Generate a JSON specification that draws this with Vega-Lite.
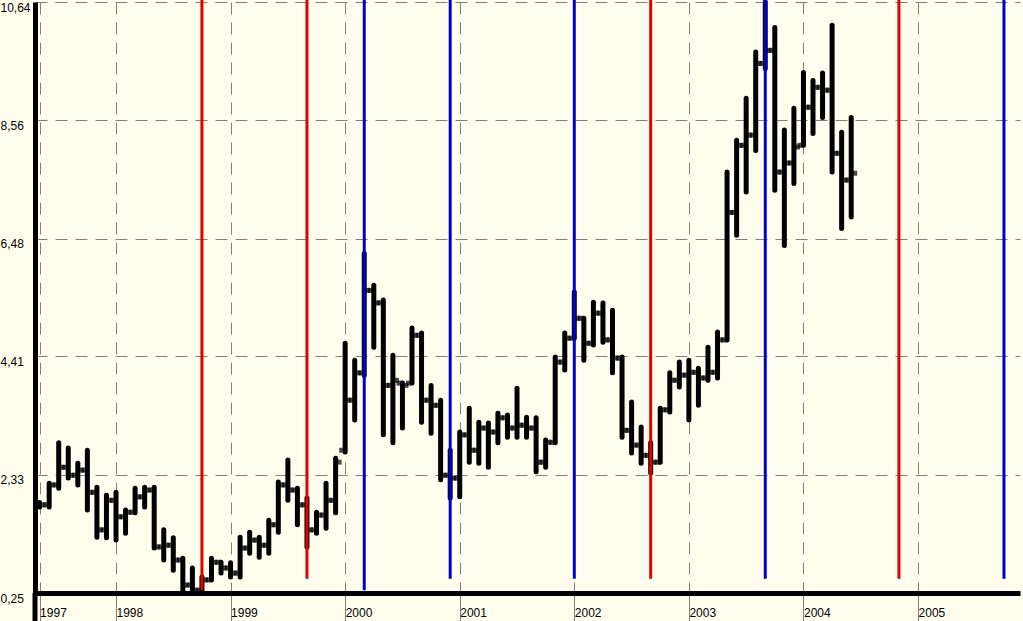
{
  "$schema": "https://vega.github.io/schema/vega-lite/v6.json",
  "width": 985,
  "height": 591,
  "autosize": {"type": "none"},
  "padding": {"left": 35, "top": 2, "right": 3, "bottom": 28},
  "background": "#FFFEEE",
  "config": {"view": {"stroke": null}, "font": "Liberation Sans"},
  "datasets": {
    "bars": [
      {"year": 1997.3333, "o": 1.80, "h": 1.84, "l": 1.76, "c": 1.80},
      {"year": 1997.4167, "o": 1.80, "h": 2.18, "l": 1.76, "c": 2.15},
      {"year": 1997.5, "o": 2.15, "h": 2.89, "l": 2.09, "c": 2.46},
      {"year": 1997.5833, "o": 2.46, "h": 2.80, "l": 2.27, "c": 2.32},
      {"year": 1997.6667, "o": 2.32, "h": 2.53, "l": 2.15, "c": 2.41},
      {"year": 1997.75, "o": 2.41, "h": 2.76, "l": 1.71, "c": 2.02},
      {"year": 1997.8333, "o": 2.02, "h": 2.11, "l": 1.23, "c": 1.36},
      {"year": 1997.9167, "o": 1.36, "h": 1.97, "l": 1.22, "c": 1.88},
      {"year": 1998.0, "o": 1.88, "h": 2.02, "l": 1.18, "c": 1.59},
      {"year": 1998.0833, "o": 1.59, "h": 1.71, "l": 1.30, "c": 1.67},
      {"year": 1998.1667, "o": 1.67, "h": 2.09, "l": 1.66, "c": 1.94},
      {"year": 1998.25, "o": 1.94, "h": 2.11, "l": 1.76, "c": 2.06},
      {"year": 1998.3333, "o": 2.06, "h": 2.11, "l": 1.04, "c": 1.06},
      {"year": 1998.4167, "o": 1.06, "h": 1.36, "l": 0.83, "c": 1.09},
      {"year": 1998.5, "o": 1.09, "h": 1.22, "l": 0.65, "c": 0.83},
      {"year": 1998.5833, "o": 0.83, "h": 0.86, "l": 0.25, "c": 0.39},
      {"year": 1998.6667, "o": 0.39, "h": 0.69, "l": 0.25, "c": 0.30},
      {"year": 1998.75, "o": 0.30, "h": 0.53, "l": 0.30, "c": 0.48},
      {"year": 1998.8333, "o": 0.48, "h": 0.86, "l": 0.48, "c": 0.79},
      {"year": 1998.9167, "o": 0.79, "h": 0.79, "l": 0.60, "c": 0.69},
      {"year": 1999.0, "o": 0.69, "h": 0.78, "l": 0.53, "c": 0.60},
      {"year": 1999.0833, "o": 0.60, "h": 1.23, "l": 0.53, "c": 1.04},
      {"year": 1999.1667, "o": 1.04, "h": 1.32, "l": 0.95, "c": 1.18},
      {"year": 1999.25, "o": 1.18, "h": 1.23, "l": 0.88, "c": 1.09},
      {"year": 1999.3333, "o": 1.09, "h": 1.53, "l": 0.95, "c": 1.45},
      {"year": 1999.4167, "o": 1.45, "h": 2.20, "l": 1.32, "c": 2.15},
      {"year": 1999.5, "o": 2.15, "h": 2.59, "l": 1.88, "c": 2.06},
      {"year": 1999.5833, "o": 2.06, "h": 2.09, "l": 1.45, "c": 1.80},
      {"year": 1999.6667, "o": 1.80, "h": 1.92, "l": 1.06, "c": 1.36},
      {"year": 1999.75, "o": 1.36, "h": 1.67, "l": 1.30, "c": 1.62},
      {"year": 1999.8333, "o": 1.62, "h": 2.18, "l": 1.39, "c": 1.88},
      {"year": 1999.9167, "o": 1.88, "h": 2.62, "l": 1.66, "c": 2.55},
      {"year": 2000.0, "o": 2.76, "h": 4.64, "l": 2.73, "c": 3.64},
      {"year": 2000.0833, "o": 3.64, "h": 4.34, "l": 3.29, "c": 4.12},
      {"year": 2000.1667, "o": 4.12, "h": 6.22, "l": 4.08, "c": 5.57},
      {"year": 2000.25, "o": 5.57, "h": 5.66, "l": 4.57, "c": 5.35},
      {"year": 2000.3333, "o": 5.35, "h": 5.40, "l": 3.03, "c": 3.90},
      {"year": 2000.4167, "o": 3.90, "h": 4.43, "l": 2.89, "c": 3.99},
      {"year": 2000.5, "o": 3.94, "h": 3.94, "l": 3.15, "c": 3.90},
      {"year": 2000.5833, "o": 3.94, "h": 4.91, "l": 3.94, "c": 4.78},
      {"year": 2000.6667, "o": 4.78, "h": 4.82, "l": 3.25, "c": 3.64},
      {"year": 2000.75, "o": 3.64, "h": 3.90, "l": 3.06, "c": 3.55},
      {"year": 2000.8333, "o": 3.55, "h": 3.64, "l": 2.24, "c": 2.32},
      {"year": 2000.9167, "o": 2.32, "h": 2.76, "l": 1.92, "c": 2.27},
      {"year": 2001.0, "o": 2.27, "h": 3.08, "l": 1.94, "c": 3.03},
      {"year": 2001.0833, "o": 3.03, "h": 3.50, "l": 2.55, "c": 2.76},
      {"year": 2001.1667, "o": 2.76, "h": 3.25, "l": 2.53, "c": 3.15},
      {"year": 2001.25, "o": 3.15, "h": 3.24, "l": 2.46, "c": 3.08},
      {"year": 2001.3333, "o": 3.08, "h": 3.41, "l": 2.89, "c": 3.33},
      {"year": 2001.4167, "o": 3.33, "h": 3.38, "l": 2.99, "c": 3.15},
      {"year": 2001.5, "o": 3.15, "h": 3.85, "l": 2.99, "c": 3.20},
      {"year": 2001.5833, "o": 3.20, "h": 3.34, "l": 2.99, "c": 3.15},
      {"year": 2001.6667, "o": 3.15, "h": 3.33, "l": 2.38, "c": 2.55},
      {"year": 2001.75, "o": 2.55, "h": 2.94, "l": 2.46, "c": 2.90},
      {"year": 2001.8333, "o": 2.90, "h": 4.40, "l": 2.89, "c": 4.31},
      {"year": 2001.9167, "o": 4.31, "h": 4.82, "l": 4.17, "c": 4.73},
      {"year": 2002.0, "o": 4.73, "h": 5.54, "l": 4.73, "c": 5.08},
      {"year": 2002.0833, "o": 5.08, "h": 5.08, "l": 4.34, "c": 4.64},
      {"year": 2002.1667, "o": 4.64, "h": 5.36, "l": 4.61, "c": 5.17},
      {"year": 2002.25, "o": 5.17, "h": 5.35, "l": 4.66, "c": 4.70},
      {"year": 2002.3333, "o": 4.70, "h": 5.22, "l": 4.12, "c": 4.38},
      {"year": 2002.4167, "o": 4.38, "h": 4.40, "l": 2.99, "c": 3.11},
      {"year": 2002.5, "o": 3.11, "h": 3.61, "l": 2.71, "c": 2.85},
      {"year": 2002.5833, "o": 2.85, "h": 3.17, "l": 2.53, "c": 2.67},
      {"year": 2002.6667, "o": 2.67, "h": 2.89, "l": 2.36, "c": 2.55},
      {"year": 2002.75, "o": 2.55, "h": 3.50, "l": 2.55, "c": 3.47},
      {"year": 2002.8333, "o": 3.47, "h": 4.12, "l": 3.43, "c": 3.99},
      {"year": 2002.9167, "o": 3.99, "h": 4.31, "l": 3.87, "c": 4.08},
      {"year": 2003.0, "o": 4.08, "h": 4.34, "l": 3.29, "c": 4.13},
      {"year": 2003.0833, "o": 4.13, "h": 4.20, "l": 3.55, "c": 4.03},
      {"year": 2003.1667, "o": 4.03, "h": 4.57, "l": 3.99, "c": 4.13},
      {"year": 2003.25, "o": 4.13, "h": 4.84, "l": 4.03, "c": 4.70},
      {"year": 2003.3333, "o": 4.70, "h": 7.65, "l": 4.70, "c": 6.94},
      {"year": 2003.4167, "o": 6.94, "h": 8.21, "l": 6.54, "c": 8.12},
      {"year": 2003.5, "o": 8.12, "h": 8.95, "l": 7.30, "c": 8.30},
      {"year": 2003.5833, "o": 8.30, "h": 9.76, "l": 8.03, "c": 9.56},
      {"year": 2003.6667, "o": 9.56, "h": 10.64, "l": 9.47, "c": 9.79},
      {"year": 2003.75, "o": 9.79, "h": 10.19, "l": 7.33, "c": 7.65},
      {"year": 2003.8333, "o": 7.65, "h": 8.39, "l": 6.36, "c": 7.81},
      {"year": 2003.9167, "o": 7.81, "h": 8.77, "l": 7.45, "c": 8.09},
      {"year": 2004.0, "o": 8.12, "h": 9.40, "l": 8.12, "c": 8.79},
      {"year": 2004.0833, "o": 8.79, "h": 9.26, "l": 8.33, "c": 9.14},
      {"year": 2004.1667, "o": 9.14, "h": 9.39, "l": 8.61, "c": 9.09},
      {"year": 2004.25, "o": 9.09, "h": 10.23, "l": 7.65, "c": 7.98},
      {"year": 2004.3333, "o": 7.98, "h": 8.35, "l": 6.66, "c": 7.51},
      {"year": 2004.4167, "o": 7.51, "h": 8.61, "l": 6.86, "c": 7.63}
    ],
    "lines": [
      {"year": 1998.75, "kind": "red", "bottom": 0.30, "top": 10.68},
      {"year": 1999.6667, "kind": "red", "bottom": 0.50, "top": 10.68},
      {"year": 2000.1667, "kind": "blue", "bottom": 0.30, "top": 10.68},
      {"year": 2000.9167, "kind": "blue", "bottom": 0.50, "top": 10.68},
      {"year": 2002.0, "kind": "blue", "bottom": 0.50, "top": 10.68},
      {"year": 2002.6667, "kind": "red", "bottom": 0.50, "top": 10.68},
      {"year": 2003.6667, "kind": "blue", "bottom": 0.50, "top": 10.68},
      {"year": 2004.8333, "kind": "red", "bottom": 0.50, "top": 10.68},
      {"year": 2005.75, "kind": "blue", "bottom": 0.50, "top": 10.68}
    ]
  },
  "layer": [
    {
      "data": {"name": "bars"},
      "mark": {"type": "rule", "color": "black", "strokeWidth": 5, "strokeCap": "round"},
      "encoding": {
        "x": {
          "field": "year", "type": "quantitative",
          "scale": {"domain": [1997.293, 2005.89], "nice": false, "zero": false},
          "axis": {
            "title": null,
            "values": [1997.3333, 1998, 1999, 2000, 2001, 2002, 2003, 2004, 2005],
            "labelExpr": "floor(datum.value)",
            "grid": true, "gridColor": "#808080", "gridDash": [12, 8], "gridWidth": 1,
            "domainColor": "black", "domainWidth": 5,
            "tickColor": "#808080", "tickSize": 28, "tickWidth": 1,
            "labelAlign": "left", "labelBaseline": "top", "labelPadding": -14, "labelDx": 2,
            "labelFontSize": 12, "labelColor": "black", "labelFont": "Liberation Sans",
            "labelOverlap": false, "labelFlush": false
          }
        },
        "y": {
          "field": "l", "type": "quantitative",
          "scale": {"domain": [0.25, 10.64], "nice": false, "zero": false},
          "axis": {
            "title": null,
            "values": [0.25, 2.33, 4.41, 6.48, 8.56, 10.64],
            "labelExpr": "replace(format(datum.value, '.2f'), '.', ',')",
            "grid": true, "gridColor": "#808080", "gridDash": [12, 8], "gridWidth": 1,
            "domainColor": "black", "domainWidth": 5,
            "ticks": false, "tickSize": 0,
            "labelAlign": "left", "labelBaseline": "top", "labelPadding": 35, "labelDy": 2,
            "labelFontSize": 12, "labelColor": "black", "labelFont": "Liberation Sans",
            "labelOverlap": false, "labelFlush": false
          }
        },
        "y2": {"field": "h"}
      }
    },
    {
      "data": {"name": "bars"},
      "mark": {"type": "tick", "orient": "horizontal", "color": "black", "size": 6, "thickness": 5, "xOffset": -3},
      "encoding": {
        "x": {"field": "year", "type": "quantitative"},
        "y": {"field": "o", "type": "quantitative", "axis": {"title": null}}
      }
    },
    {
      "data": {"name": "bars"},
      "mark": {"type": "tick", "orient": "horizontal", "color": "black", "size": 6, "thickness": 5, "xOffset": 3},
      "encoding": {
        "x": {"field": "year", "type": "quantitative"},
        "y": {"field": "c", "type": "quantitative", "axis": {"title": null}}
      }
    },
    {
      "data": {"name": "lines"},
      "mark": {"type": "rule", "strokeWidth": 3, "clip": false},
      "encoding": {
        "x": {"field": "year", "type": "quantitative"},
        "y": {"field": "bottom", "type": "quantitative", "axis": {"title": null}},
        "y2": {"field": "top"},
        "color": {"field": "kind", "type": "nominal", "scale": {"domain": ["red", "blue"], "range": ["#e00000", "#0000d0"]}, "legend": null}
      }
    },
    {
      "data": {"values": [{}]},
      "mark": {"type": "rule", "color": "black", "strokeWidth": 5, "clip": false},
      "encoding": {
        "x": {"datum": 1997.293, "type": "quantitative"},
        "y": {"datum": -0.3, "type": "quantitative"},
        "y2": {"datum": 0.25}
      }
    }
  ]
}
